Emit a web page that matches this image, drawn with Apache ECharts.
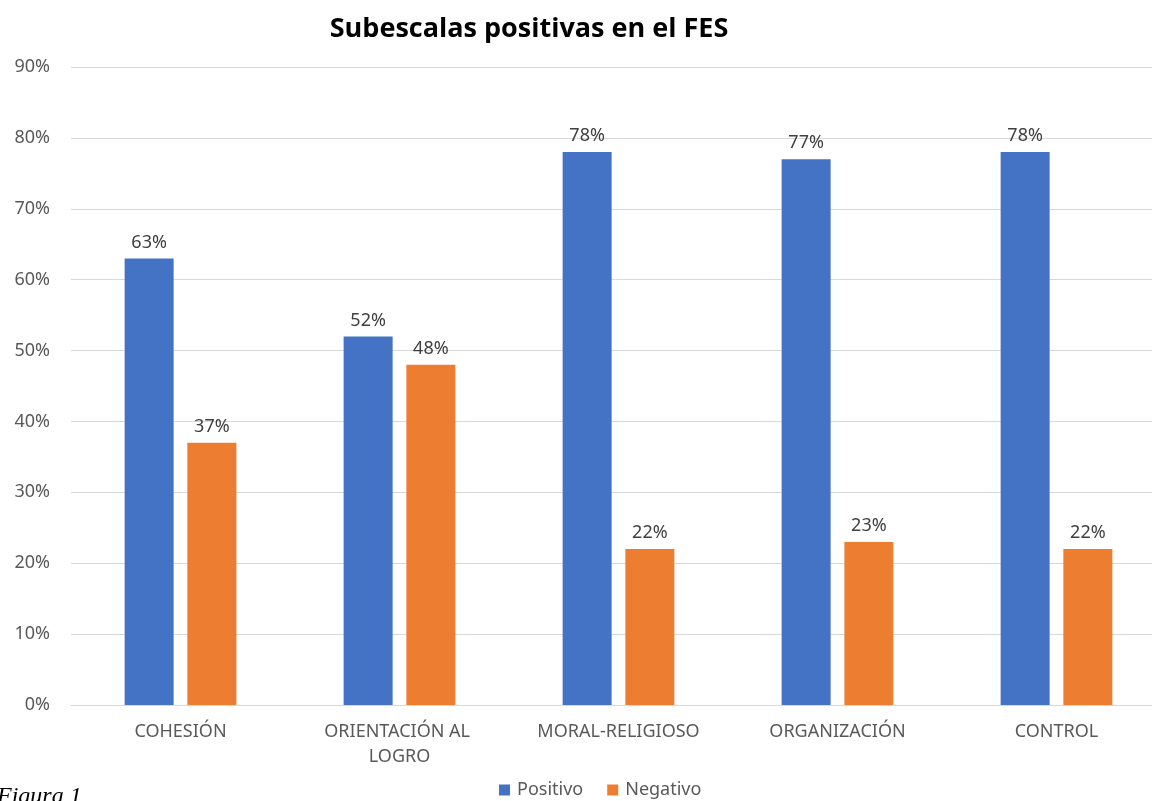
<!DOCTYPE html>
<html>
<head>
<meta charset="utf-8">
<script src="https://cdn.jsdelivr.net/npm/echarts@6/dist/echarts.min.js"></script>
<style>
  html, body { margin: 0; padding: 0; background: #fff; overflow: hidden; }
  #chart { width: 1166px; height: 801px; }
</style>
</head>
<body>
<div id="chart"></div>
<script>
// subescalas del FES
const categorias = ["COHESIÓN", "ORIENTACIÓN AL LOGRO", "MORAL-RELIGIOSO", "ORGANIZACIÓN", "CONTROL"];
const positivo = [63, 52, 78, 77, 78];
const negativo = [37, 48, 22, 23, 22];
const yTicks = [0, 10, 20, 30, 40, 50, 60, 70, 80, 90];

const chart = echarts.init(document.getElementById("chart"));
const fuente = "'Noto Sans', 'Open Sans', sans-serif";

const etiqueta = {
  show: true,
  position: "top",
  distance: 7,
  formatter: "{c}%",
  color: "#404040",
  fontSize: 18,
  fontFamily: fuente
};

chart.setOption({
  animation: false,
  title: {
    text: "Subescalas positivas en el FES",
    left: 524,
    textAlign: "center",
    top: 11,
    textStyle: {
      fontFamily: "'Open Sans', sans-serif",
      fontWeight: "bold",
      fontSize: 27,
      color: "#000"
    }
  },
  legend: {
    data: ["Positivo", "Negativo"],
    left: 494,
    bottom: -3,
    itemWidth: 11,
    itemHeight: 11,
    itemGap: 24,
    icon: "rect",
    textStyle: { fontSize: 18, color: "#595959", fontFamily: fuente, padding: [0, 0, 0, 2] }
  },
  grid: { left: 71, right: 0, top: 67, bottom: 96, containLabel: false },
  xAxis: {
    type: "category",
    data: categorias,
    axisLine: { lineStyle: { color: "#d9d9d9", width: 1 } },
    axisTick: { show: false },
    axisLabel: {
      color: "#595959",
      fontSize: 18,
      fontFamily: fuente,
      margin: 14,
      width: 190,
      overflow: "break",
      lineHeight: 25,
      interval: 0
    }
  },
  yAxis: {
    type: "value",
    min: yTicks[0],
    max: yTicks[yTicks.length - 1],
    interval: 10,
    axisLine: { show: false },
    axisTick: { show: false },
    axisLabel: {
      formatter: "{value}%",
      color: "#595959",
      fontSize: 18,
      fontFamily: fuente,
      margin: 21
    },
    splitLine: { lineStyle: { color: "#d9d9d9", width: 1 } }
  },
  graphic: [
    {
      type: "text",
      left: -3,
      top: 785,
      style: {
        text: "Figura 1",
        font: "italic 24px 'Liberation Serif', serif",
        fill: "#000"
      }
    }
  ],
  series: [
    {
      name: "Positivo",
      type: "bar",
      data: positivo,
      barWidth: 49,
      barGap: "28%",
      itemStyle: { color: "#4472C4" },
      label: etiqueta
    },
    {
      name: "Negativo",
      type: "bar",
      data: negativo,
      barWidth: 49,
      itemStyle: { color: "#ED7D31" },
      label: etiqueta
    }
  ]
});
</script>
</body>
</html>
